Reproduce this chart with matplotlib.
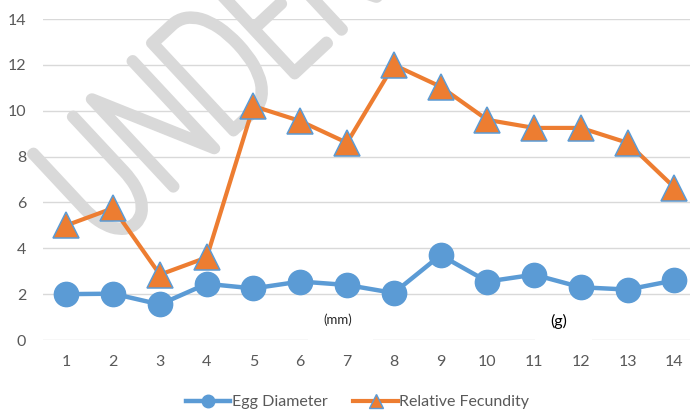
import matplotlib
matplotlib.use("Agg")
import matplotlib.pyplot as plt
from matplotlib.lines import Line2D
from matplotlib.patches import Rectangle, PathPatch
from matplotlib.textpath import TextPath
from matplotlib.font_manager import FontProperties
from matplotlib.transforms import Affine2D

# ---- data ----
categories = list(range(1, 15))
egg_diameter = [2.0, 2.02, 1.55, 2.45, 2.25, 2.55, 2.4, 2.05, 3.7, 2.55, 2.85, 2.3, 2.2, 2.6]
relative_fecundity = [5.0, 5.75, 2.85, 3.6, 10.2, 9.55, 8.6, 12.0, 11.05, 9.6, 9.25, 9.25, 8.6, 6.65]
y_ticks = [0, 2, 4, 6, 8, 10, 12, 14]
series_names = ["Egg Diameter", "Relative Fecundity"]

plt.rcParams["font.family"] = ["Lato", "DejaVu Sans"]

BLUE = "#5B9BD5"
ORANGE = "#ED7D31"
GRID = "#D9D9D9"
TXT = "#595959"

W, H = 690, 415
fig = plt.figure(figsize=(W / 100, H / 100), dpi=100)
ax = fig.add_axes([43 / W, 75 / H, 654.8 / W, 321 / H])

# watermark (condensed, rotated text drawn with a thick rounded stroke)
tp = TextPath((0, 0), "UNDER REVIEW", size=172,
              prop=FontProperties(family="Lato", weight="light"))
wm_tr = (Affine2D().scale(0.64, 1.0).rotate_deg(43).translate(106, H - 250)
         .scale(1 / 100) + fig.dpi_scale_trans)
ax.add_patch(PathPatch(tp, transform=wm_tr, facecolor="#D9D9D9", edgecolor="#D9D9D9",
                       linewidth=7.8, joinstyle="round", capstyle="round",
                       zorder=1.5, clip_on=False))

# white label boxes interrupting the zero line
for (x0, x1) in [(308, 373), (535, 592)]:
    ax.add_patch(Rectangle((x0 / W, 1 - 348 / H), (x1 - x0) / W, 46 / H,
                           transform=fig.transFigure, facecolor="white",
                           edgecolor="none", zorder=1.2, clip_on=False))
ax.text(338 / W, 1 - 320 / H, "(mm)", transform=fig.transFigure, ha="center",
        va="center", fontsize=9.5, color="#262626", zorder=1.3)
ax.text(559 / W, 1 - 321 / H, "(g)", transform=fig.transFigure, ha="center",
        va="center", fontsize=11.5, color="#000000", zorder=1.3)

ax.plot(categories, egg_diameter, color=BLUE, linewidth=3.2, marker="o",
        markersize=17.5, markerfacecolor=BLUE, markeredgecolor=BLUE,
        zorder=3, clip_on=False)
ax.plot(categories, relative_fecundity, color=ORANGE, linewidth=3.0, marker="^",
        markersize=18.5, markerfacecolor=ORANGE, markeredgecolor=BLUE,
        markeredgewidth=1.1, zorder=4, clip_on=False)

ax.set_xlim(0.5, 14.5)
ax.set_ylim(0, 14)
ax.set_yticks(y_ticks)
ax.set_xticks(categories)
ax.set_xticklabels([str(c) for c in categories])
ax.set_axisbelow(True)
ax.grid(axis="y", color=GRID, linewidth=1.0)
ax.grid(axis="x", visible=False)
for s in ax.spines.values():
    s.set_visible(False)
ax.tick_params(axis="both", length=0, labelsize=11.5, colors=TXT)
ax.tick_params(axis="y", pad=12)
ax.tick_params(axis="x", pad=11)

handles = [
    Line2D([], [], color=BLUE, linewidth=3.2, marker="o", markersize=9,
           markerfacecolor=BLUE, markeredgecolor=BLUE),
    Line2D([], [], color=ORANGE, linewidth=3.0, marker="^", markersize=9.5,
           markerfacecolor=ORANGE, markeredgecolor=BLUE, markeredgewidth=1.0),
]
leg = fig.legend(handles, series_names, loc="center", bbox_to_anchor=(357.5 / W, 13 / H),
                 ncol=2, frameon=False, fontsize=11.5, handlelength=2.8,
                 handletextpad=0.1, columnspacing=1.6, borderaxespad=0)
for t in leg.get_texts():
    t.set_color(TXT)

fig.savefig("out.png", dpi=100)
